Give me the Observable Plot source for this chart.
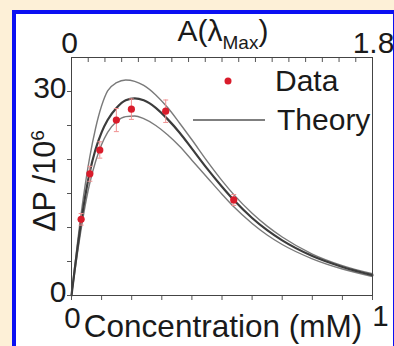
<!DOCTYPE html>
<html><head><meta charset="utf-8">
<script src="https://cdn.jsdelivr.net/npm/d3@7"></script>
<script src="https://cdn.jsdelivr.net/npm/@observablehq/plot@0.6"></script>
<style>
html,body{margin:0;padding:0;background:#fdf0d7;width:394px;height:346px;overflow:hidden;}
#wrap{position:relative;width:394px;height:346px;}
#panel{position:absolute;left:12px;top:10px;width:385px;height:400px;border:4px solid #0b10f2;background:#fff;box-sizing:border-box;}
#chart{position:absolute;left:0;top:0;}
</style></head><body>
<div id="wrap"><div id="panel"></div><div id="chart"></div></div>
<script>
// Measured data (concentration in mM, ΔP in 10^6)
const conc  = [0.032, 0.061, 0.094, 0.149, 0.199, 0.313, 0.539];
const dP    = [11.2, 17.9, 21.4, 25.8, 27.4, 27.1, 14.05];
const dPerr = [0.85, 1.1, 1.2, 1.7, 1.5, 1.65, 0.8];

// Theory curves
const theoryC     = [0, 0.01, 0.02, 0.03, 0.04, 0.06, 0.08, 0.10, 0.12, 0.15, 0.18, 0.21, 0.24, 0.28, 0.32, 0.36, 0.40, 0.45, 0.50, 0.54, 0.60, 0.65, 0.70, 0.80, 0.90, 1.00];
const theoryUpper = [0, 4.0, 7.8, 11.4, 14.6, 20.2, 24.6, 27.9, 30.1, 31.3, 31.7, 31.5, 30.9, 29.5, 27.6, 25.3, 22.9, 19.8, 16.9, 14.8, 12.1, 10.2, 8.6, 6.1, 4.4, 3.2];
const theoryMid   = [0, 3.6, 7.0, 10.2, 13.1, 18.0, 21.5, 24.0, 25.8, 27.6, 28.7, 29.0, 28.7, 27.6, 25.9, 23.9, 21.6, 18.7, 16.0, 14.0, 11.4, 9.6, 8.1, 5.8, 4.2, 3.0];
const theoryLower = [0, 3.2, 6.3, 9.2, 11.9, 16.4, 19.7, 22.2, 24.0, 25.6, 26.3, 26.4, 26.0, 25.0, 23.6, 21.9, 19.9, 17.4, 14.9, 13.0, 10.6, 8.9, 7.5, 5.4, 3.9, 2.8];

// Axis ticks and labels
const xTicks = [0, 0.1, 0.2, 0.3, 0.4, 0.5, 0.6, 0.7, 0.8, 0.9, 1];
const xLabelLow = [0];
const xLabelHigh = [1];
const yTicks = [0, 5, 10, 15, 20, 25, 30];
const yLabelVals = [0, 30];
const aMax = 1.8;
const aTicks = [0, 0.1, 0.2, 0.3, 0.4, 0.5, 0.6, 0.7, 0.8, 0.9, 1.0, 1.1, 1.2, 1.3, 1.4, 1.5, 1.6, 1.7, 1.8];
const aLabelLow = [0];
const aLabelHigh = [1.8];

const points = conc.map((c, i) => ({c, p: dP[i], e: dPerr[i]}));
const mk = (arr) => theoryC.map((c, i) => ({c, v: arr[i]}));

const font = "'Liberation Sans', Arial, Helvetica, sans-serif";
const ink = "#1a1a1a";
const capSym = {draw(ctx, size) { const w = Math.sqrt(size / Math.PI); ctx.moveTo(-w, 0); ctx.lineTo(w, 0); }};
const errCol = "#f09090";

const plot = Plot.plot({
  width: 394, height: 346,
  marginLeft: 71, marginRight: 22, marginTop: 57, marginBottom: 51,
  style: {background: "transparent", fontFamily: font, color: ink},
  x: {domain: [0, 1]},
  y: {domain: [0, 35]},
  marks: [
    Plot.line(mk(theoryUpper), {x: "c", y: "v", stroke: "#7a7a7a", strokeWidth: 1.4, curve: "monotone-x"}),
    Plot.line(mk(theoryLower), {x: "c", y: "v", stroke: "#7a7a7a", strokeWidth: 1.4, curve: "monotone-x"}),
    Plot.line(mk(theoryMid), {x: "c", y: "v", stroke: "#3c3c3c", strokeWidth: 2.2, curve: "monotone-x"}),
    Plot.ruleX(points, {x: "c", y1: d => d.p - d.e, y2: d => d.p + d.e, stroke: errCol, strokeWidth: 1}),
    Plot.dot(points, {x: "c", y: d => d.p + d.e, symbol: capSym, r: 2.5, stroke: errCol, strokeWidth: 1}),
    Plot.dot(points, {x: "c", y: d => d.p - d.e, symbol: capSym, r: 2.5, stroke: errCol, strokeWidth: 1}),
    Plot.dot(points, {x: "c", y: "p", r: 3.6, fill: "#d91c2b"}),
    Plot.axisX({anchor: "bottom", ticks: xTicks, tickSize: 5, tickFormat: () => "", label: null, stroke: "#555"}),
    Plot.axisX({anchor: "top", ticks: aTicks.map(a => a / aMax), tickSize: 4, dy: 4, tickFormat: () => "", label: null, stroke: "#555"}),
    Plot.axisY({anchor: "left", ticks: yTicks, tickSize: 4, tickFormat: () => "", label: null, stroke: "#555"}),
    Plot.frame({stroke: "#444"}),
    Plot.text(xLabelLow, {x: d => d, text: d => String(d), frameAnchor: "bottom", lineAnchor: "middle", dy: 23, dx: 1, fontSize: 29.5, fill: ink}),
    Plot.text(xLabelHigh, {x: d => d, text: d => String(d), frameAnchor: "bottom", lineAnchor: "middle", dy: 21, dx: 8, fontSize: 29.5, fill: ink}),
    Plot.text(aLabelLow, {x: a => a / aMax, text: a => String(a), frameAnchor: "top", lineAnchor: "middle", dy: -14, dx: -2, fontSize: 30, fill: ink}),
    Plot.text(aLabelHigh, {x: a => a / aMax, text: a => String(a), frameAnchor: "top", lineAnchor: "middle", dy: -14, dx: 1, fontSize: 30, fill: ink}),
    Plot.text(yLabelVals, {y: d => d, text: d => String(d), frameAnchor: "left", lineAnchor: "middle", textAnchor: "end", dx: -5, dy: -3, fontSize: 30, fill: ink}),
    Plot.text(["Concentration (mM)"], {frameAnchor: "bottom", lineAnchor: "middle", dy: 31, dx: 1, fontSize: 31.5, fill: ink})
  ]
});

const svg = d3.select(plot);
// Top title A(λ_Max)
const t = svg.append("text").attr("x", 223).attr("y", 41).attr("text-anchor", "middle")
  .attr("font-size", 30).attr("font-family", font).attr("fill", ink);
t.append("tspan").text("A(λ");
t.append("tspan").attr("dy", 8).attr("font-size", 19).text("Max");
t.append("tspan").attr("dy", -8).attr("font-size", 30).text(")");
// Y title ΔP /10^6
const yt = svg.append("text").attr("transform", "translate(55,181) rotate(-90)").attr("text-anchor", "middle")
  .attr("font-size", 30.5).attr("font-family", font).attr("fill", ink);
yt.append("tspan").text("ΔP /10");
yt.append("tspan").attr("dy", -11).attr("font-size", 19).text("6");
// Legend
const lg = svg.append("g").attr("font-family", font).attr("font-size", 30).attr("fill", ink).attr("text-anchor", "start");
lg.append("circle").attr("cx", 228).attr("cy", 81).attr("r", 3.5).attr("fill", "#d91c2b");
lg.append("text").attr("x", 275).attr("y", 91).text("Data");
lg.append("line").attr("x1", 193).attr("x2", 265).attr("y1", 120).attr("y2", 120).attr("stroke", "#555").attr("stroke-width", 1.5);
lg.append("text").attr("x", 277).attr("y", 130).text("Theory");

document.getElementById("chart").appendChild(plot);
</script>
</body></html>
